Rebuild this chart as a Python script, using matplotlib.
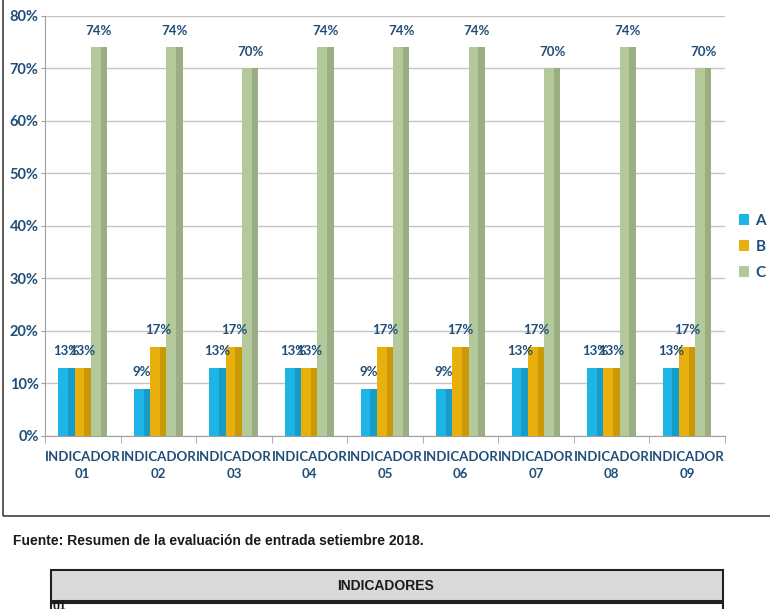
"""Grouped bars: A/B/C share per indicador, with source note and table header."""
import matplotlib
matplotlib.use("Agg")
import matplotlib.pyplot as plt
from matplotlib.patches import Rectangle
import numpy as np

categories = ["INDICADOR\n01", "INDICADOR\n02", "INDICADOR\n03", "INDICADOR\n04",
              "INDICADOR\n05", "INDICADOR\n06", "INDICADOR\n07", "INDICADOR\n08",
              "INDICADOR\n09"]
a_vals = [13, 9, 13, 13, 9, 9, 13, 13, 13]
b_vals = [13, 17, 17, 13, 17, 17, 17, 13, 17]
c_vals = [74, 74, 70, 74, 74, 74, 70, 74, 70]
series = [("A", a_vals, "#1eb4e6", "#0f7fa8"),
          ("B", b_vals, "#e8b00c", "#a87c00"),
          ("C", c_vals, "#b3c99c", "#7c8f68")]
yticks = [0, 10, 20, 30, 40, 50, 60, 70, 80]

navy = "#1f4e79"
plt.rcParams["font.family"] = ["Lato", "DejaVu Sans"]

fig = plt.figure(figsize=(7.7, 6.09), dpi=100)
ax = fig.add_axes([0.0584, 0.2841, 0.883, 0.6897])

x = np.arange(len(categories))
w = 0.215
for i, (name, vals, col, dark) in enumerate(series):
    pos = x + (i - 1) * w
    ax.bar(pos, vals, width=w, color=col, edgecolor="none", label=name, zorder=3)
    # darker right strip for a bit of depth
    ax.bar(pos + w * 0.3, vals, width=w * 0.4, color=dark, alpha=0.45,
           edgecolor="none", zorder=3)
    for p, v in zip(pos, vals):
        ax.text(p, v + 2.0, f"{v}%", ha="center", va="bottom", fontsize=9.5,
                fontweight="bold", color=navy, zorder=4)

ax.set_xlim(-0.5, len(categories) - 0.5)
ax.set_ylim(0, 80)
ax.set_yticks(yticks)
ax.set_yticklabels([f"{t}%" for t in yticks])
ax.set_xticks(x)
ax.set_xticklabels(categories, linespacing=1.45)
ax.set_xticks(np.arange(len(categories) + 1) - 0.5, minor=True)
ax.tick_params(axis="x", which="major", length=0, pad=11)
ax.tick_params(axis="x", which="minor", length=5, color="#a0a0a0")
ax.tick_params(axis="y", length=3, color="#a0a0a0", pad=1.5)
for lab in ax.get_xticklabels():
    lab.set_fontsize(9.5)
for lab in ax.get_yticklabels():
    lab.set_fontsize(10.5)
for lab in ax.get_xticklabels() + ax.get_yticklabels():
    lab.set_fontweight("bold")
    lab.set_color(navy)
ax.grid(axis="y", color="#c4c4c4", linewidth=1, zorder=0)
for s in ["top", "right"]:
    ax.spines[s].set_visible(False)
for s in ["left", "bottom"]:
    ax.spines[s].set_color("#a0a0a0")

leg = ax.legend(loc="center left", bbox_to_anchor=(1.0, 0.45), frameon=False,
                handlelength=0.7, handleheight=0.7, handletextpad=0.4,
                labelspacing=0.8, fontsize=11)
for t in leg.get_texts():
    t.set_fontweight("bold")
    t.set_color(navy)

# outer chart frame
fig.patches.append(Rectangle((3 / 770, 1 - 516 / 609), 1.0, 516 / 609 + 0.01,
                             transform=fig.transFigure, fill=False,
                             edgecolor="#404040", linewidth=1.2))

fig.text(13 / 770, 1 - 541 / 609, "Fuente: Resumen de la evaluación de entrada setiembre 2018.",
         ha="left", va="center", fontsize=10, fontweight="bold",
         family="Liberation Sans", color="#1a1a1a")

# table header
fig.patches.append(Rectangle((51 / 770, 1 - 601 / 609), 672 / 770, 31 / 609,
                             transform=fig.transFigure, facecolor="#d9d9d9",
                             edgecolor="#202020", linewidth=1.5))
fig.patches.append(Rectangle((51 / 770, -0.05), 672 / 770, 1 - 603 / 609 + 0.05,
                             transform=fig.transFigure, facecolor="white",
                             edgecolor="#202020", linewidth=1.5))
fig.text(385 / 770, 1 - 586 / 609, "INDICADORES", ha="center", va="center",
         fontsize=10, fontweight="bold", family="Liberation Sans", color="#1a1a1a")
fig.text(53 / 770, 1 - 607 / 609, "01", ha="left", va="center", fontsize=9,
         fontweight="bold", family="Liberation Sans", color="#1a1a1a")

fig.savefig("out.png", dpi=100)
print("saved out.png")
